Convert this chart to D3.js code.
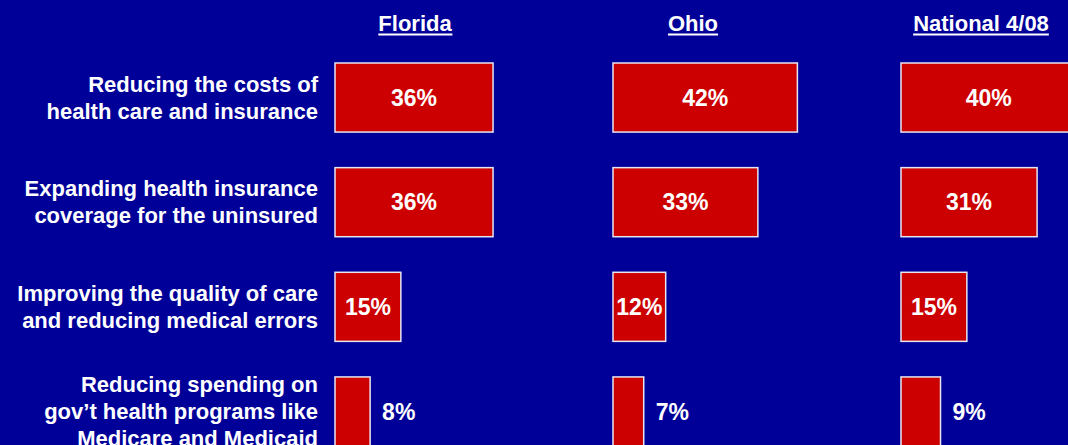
<!DOCTYPE html>
<html>
<head>
<meta charset="utf-8">
<script src="https://cdn.jsdelivr.net/npm/d3@7"></script>
<style>
  html, body { margin: 0; padding: 0; background: #000099; overflow: hidden; }
  svg { display: block; font-family: "Liberation Sans", Arial, sans-serif; font-weight: bold; }
</style>
</head>
<body>
<div id="chart"></div>
<script>
var categories = [
  ["Reducing the costs of", "health care and insurance"],
  ["Expanding health insurance", "coverage for the uninsured"],
  ["Improving the quality of care", "and reducing medical errors"],
  ["Reducing spending on", "gov\u2019t health programs like", "Medicare and Medicaid"]
];
var panels = ["Florida", "Ohio", "National 4/08"];
var florida = [36, 36, 15, 8];
var ohio = [42, 33, 12, 7];
var national = [40, 31, 15, 9];
var seriesValues = [florida, ohio, national];

var width = 1068, height = 445;

var svg = d3.select("#chart").append("svg")
    .attr("width", width)
    .attr("height", height);

svg.append("rect")
    .attr("width", width)
    .attr("height", height)
    .attr("fill", "#000099");

var y = d3.scaleBand()
    .domain(d3.range(categories.length))
    .range([63, 446])
    .paddingInner(0.34)
    .paddingOuter(0);

var panelX = d3.scaleOrdinal()
    .domain(panels)
    .range([335, 613, 901]);

var x = d3.scaleLinear().domain([0, 100]).range([0, 439]);

// category labels
var cat = svg.append("g").attr("class", "categories");
categories.forEach(function(lines, i) {
  var cy = y(i) + y.bandwidth() / 2;
  var lh = 27;
  var t = cat.append("text")
      .attr("text-anchor", "end")
      .attr("fill", "#ffffff")
      .attr("font-size", 22);
  lines.forEach(function(line, j) {
    t.append("tspan")
        .attr("x", 318)
        .attr("y", cy + (j - (lines.length - 1) / 2) * lh)
        .attr("dy", "0.35em")
        .text(line);
  });
});

// panels
panels.forEach(function(name, p) {
  var g = svg.append("g")
      .attr("class", "panel")
      .attr("transform", "translate(" + panelX(name) + ",0)");

  var title = g.append("text")
      .attr("x", 80)
      .attr("y", 31)
      .attr("text-anchor", "middle")
      .attr("fill", "#ffffff")
      .attr("font-size", 22)
      .text(name);
  var bb = title.node().getBBox();
  g.append("line")
      .attr("x1", bb.x)
      .attr("x2", bb.x + bb.width)
      .attr("y1", 34.5)
      .attr("y2", 34.5)
      .attr("stroke", "#ffffff")
      .attr("stroke-width", 2);

  var vals = seriesValues[p];

  g.selectAll("rect.bar")
      .data(vals)
      .enter()
      .append("rect")
      .attr("class", "bar")
      .attr("x", 0)
      .attr("y", function(d, i) { return y(i); })
      .attr("width", function(d) { return x(d); })
      .attr("height", y.bandwidth())
      .attr("fill", "#cc0000")
      .attr("stroke", "#e6e6f0")
      .attr("stroke-width", 1.5);

  g.selectAll("text.value")
      .data(vals)
      .enter()
      .append("text")
      .attr("class", "value")
      .attr("x", function(d) { return d >= 10 ? x(d) / 2 : x(d) + 12; })
      .attr("y", function(d, i) { return y(i) + y.bandwidth() / 2; })
      .attr("dy", "0.35em")
      .attr("text-anchor", function(d) { return d >= 10 ? "middle" : "start"; })
      .attr("fill", "#ffffff")
      .attr("font-size", 23)
      .text(function(d) { return d + "%"; });
});
</script>
</body>
</html>
